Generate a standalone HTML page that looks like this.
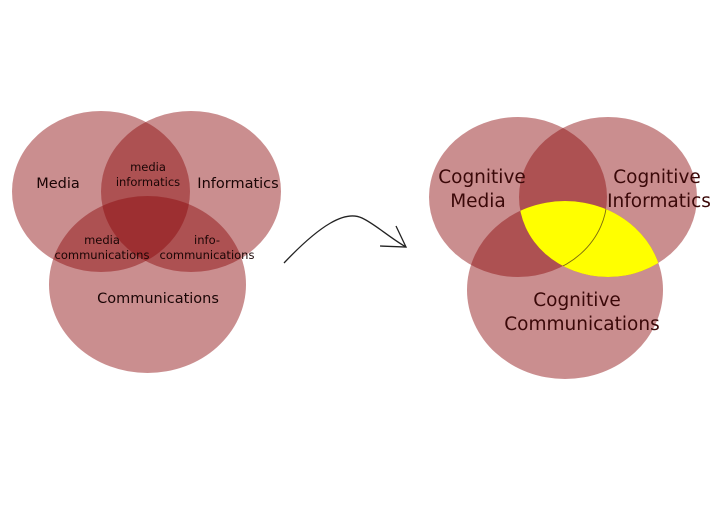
<!DOCTYPE html>
<html><head><meta charset="utf-8"><style>
html,body{margin:0;padding:0;background:#fff;}
svg{display:block;}
text{font-family:"DejaVu Sans","Liberation Sans",sans-serif;fill:#1a0505;}
</style></head><body>
<svg width="724" height="512" viewBox="0 0 724 512" xmlns="http://www.w3.org/2000/svg">
<defs>
<clipPath id="ci"><ellipse cx="608" cy="197" rx="89" ry="80"/></clipPath>
<clipPath id="cc"><ellipse cx="565" cy="290" rx="98" ry="89"/></clipPath>
</defs>
<g fill="rgb(139,8,10)" fill-opacity="0.46">
<ellipse cx="101" cy="191.5" rx="89" ry="80.5"/>
<ellipse cx="191" cy="191.5" rx="90" ry="80.5"/>
<ellipse cx="147.5" cy="284.5" rx="98.5" ry="88.5"/>
<ellipse cx="518" cy="197" rx="89" ry="80"/>
<ellipse cx="608" cy="197" rx="89" ry="80"/>
<ellipse cx="565" cy="290" rx="98" ry="89"/>
</g>
<g clip-path="url(#ci)"><g clip-path="url(#cc)">
<rect x="400" y="100" width="320" height="300" fill="#ffff00"/>
<ellipse cx="518" cy="197" rx="89" ry="80" fill="none" stroke="#7a6a10" stroke-width="0.9"/>
</g></g>
<g font-size="14.5">
<text x="58" y="188" text-anchor="middle">Media</text>
<text x="238" y="188" text-anchor="middle">Informatics</text>
<text x="158" y="303" text-anchor="middle">Communications</text>
</g>
<g font-size="11.5" text-anchor="middle">
<text x="148" y="171">media</text>
<text x="148" y="186">informatics</text>
<text x="102" y="244">media</text>
<text x="102" y="259">communications</text>
<text x="207" y="244">info-</text>
<text x="207" y="259">communications</text>
</g>
<g font-size="18.5" text-anchor="middle" style="fill:#3a0808">
<text x="482" y="183" style="fill:#3a0808">Cognitive</text>
<text x="478" y="207" style="fill:#3a0808">Media</text>
<text x="657" y="183" style="fill:#3a0808">Cognitive</text>
<text x="659" y="207" style="fill:#3a0808">Informatics</text>
<text x="577" y="306" style="fill:#3a0808">Cognitive</text>
<text x="582" y="330" style="fill:#3a0808">Communications</text>
</g>
<path d="M284 263 C 320 225, 345 210, 362 218 C 375 224, 390 238, 406 247" fill="none" stroke="#222" stroke-width="1.3"/>
<path d="M396 226 L406 247 L380 246" fill="none" stroke="#222" stroke-width="1.3"/>
</svg>
</body></html>
